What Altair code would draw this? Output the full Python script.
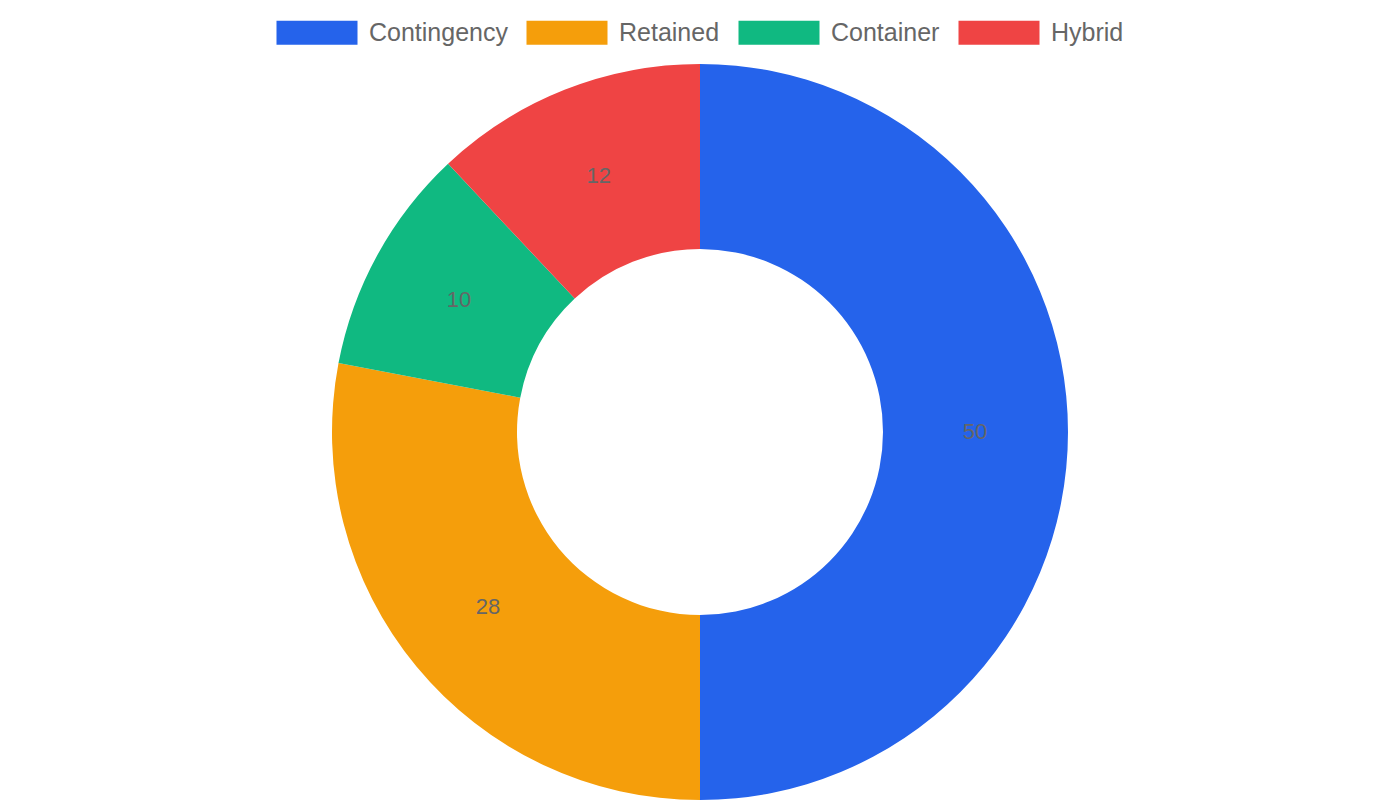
import altair as alt
import pandas as pd

# slices, clockwise from 12 o'clock
categories = ["Contingency", "Retained", "Container", "Hybrid"]
values = [50, 28, 10, 12]
colors = ["#2563eb", "#f59e0b", "#10b981", "#ef4444"]

df = pd.DataFrame({"category": categories, "value": values, "order": list(range(len(categories)))})

# wide legend box drawn as a custom symbol path (units of sqrt(size)/2)
box_path = "M-1,-1H5.75V1H-1Z"

base = alt.Chart(df).encode(
    theta=alt.Theta("value:Q", stack=True),
    order=alt.Order("order:Q"),
)

donut = base.mark_arc(outerRadius=368, innerRadius=183, stroke=None).encode(
    color=alt.Color(
        "category:N",
        sort=categories,
        scale=alt.Scale(domain=categories, range=colors),
        legend=alt.Legend(
            title=None,
            orient="none",
            legendX=268,
            legendY=-80,
            direction="horizontal",
            symbolType=box_path,
            symbolSize=576,
            symbolStrokeWidth=0,
            symbolOpacity=1,
            labelOffset=68,
            labelFontSize=25,
            labelColor="#666666",
            labelFont="Liberation Sans",
            columnPadding=18,
            labelLimit=300,
        ),
    )
)

labels = base.mark_text(radius=275, fontSize=22, color="#666666", font="Liberation Sans").encode(
    text=alt.Text("value:Q")
)

chart = (donut + labels).properties(
    width=1384,
    height=664,
    padding={"top": 12, "left": 0, "right": 0, "bottom": 0},
).configure_view(stroke=None)

chart.save("out.html", embed_options={"renderer": "svg", "actions": False})
